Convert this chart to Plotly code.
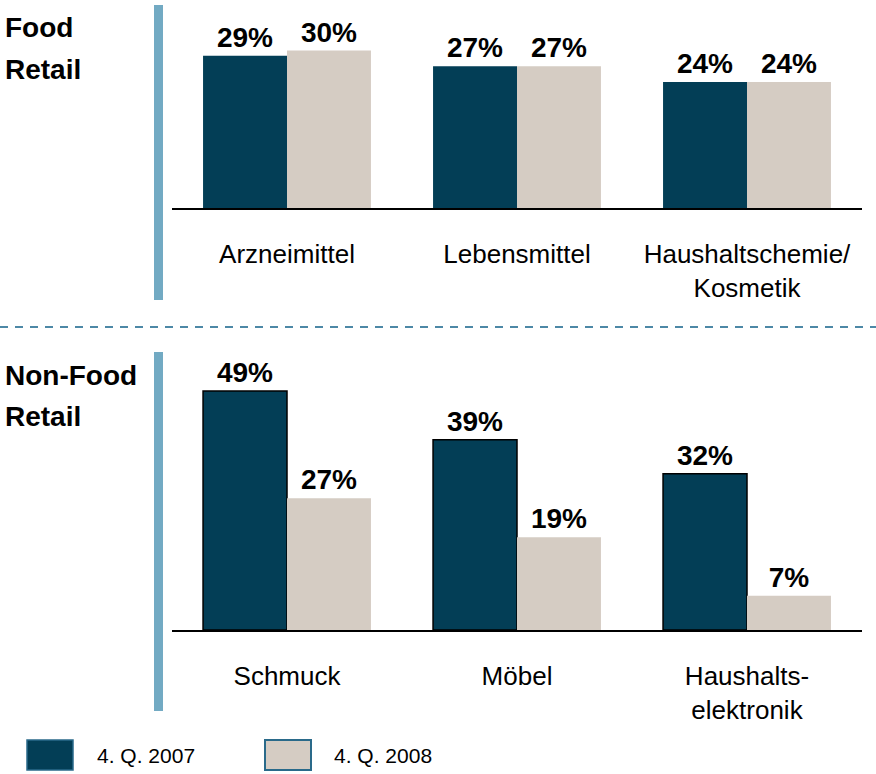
import plotly.graph_objects as go

W, H = 876, 774

# data
food_categories = ["Arzneimittel", "Lebensmittel", "Haushaltschemie/<br>Kosmetik"]
food_2007 = [29, 27, 24]
food_2008 = [30, 27, 24]

nonfood_categories = ["Schmuck", "Möbel", "Haushalts-<br>elektronik"]
nonfood_2007 = [49, 39, 32]
nonfood_2008 = [27, 19, 7]

series_names = ["4. Q. 2007", "4. Q. 2008"]
food_label = ["Food", "Retail"]
nonfood_label = ["Non-Food", "Retail"]

DARK = "#033e56"
LIGHT = "#d5ccc3"
BLUE = "#72aac3"
FONT = "Liberation Sans, Arial, sans-serif"


def px(x):
    return x / W


def py(y):
    return 1 - y / H


fig = go.Figure()

for vals, name, color in [(food_2007, series_names[0], DARK), (food_2008, series_names[1], LIGHT)]:
    fig.add_trace(go.Bar(
        x=food_categories, y=vals, name=name, xaxis="x", yaxis="y",
        marker=dict(color=color, line=dict(width=0)),
        texttemplate="%{y}%", textposition="outside", cliponaxis=False,
        textfont=dict(size=28, color="black", family=FONT, weight="bold"),
        showlegend=False,
    ))

for vals, name, color, outline in [
    (nonfood_2007, series_names[0], DARK, 1.5),
    (nonfood_2008, series_names[1], LIGHT, 0),
]:
    fig.add_trace(go.Bar(
        x=nonfood_categories, y=vals, name=name, xaxis="x2", yaxis="y2",
        marker=dict(color=color, line=dict(width=outline, color="black")),
        texttemplate="%{y}%", textposition="outside", cliponaxis=False,
        textfont=dict(size=28, color="black", family=FONT, weight="bold"),
        showlegend=False,
    ))

xstyle = dict(
    showline=True, linecolor="black", linewidth=2, showgrid=False,
    ticks="outside", ticklen=22, tickcolor="rgba(0,0,0,0)",
    tickfont=dict(size=26, color="black", family=FONT),
    fixedrange=True,
)
ystyle = dict(visible=False, showgrid=False, zeroline=False, fixedrange=True)

fig.update_layout(
    width=W, height=H,
    margin=dict(l=0, r=0, t=0, b=0),
    paper_bgcolor="white", plot_bgcolor="white",
    barmode="group", bargap=0.27, bargroupgap=0,
    font=dict(family=FONT, color="black"),
    xaxis=dict(domain=[px(172), px(862)], anchor="y", **xstyle),
    yaxis=dict(domain=[py(208), py(0)], range=[0, 208 / 5.25], anchor="x", **ystyle),
    xaxis2=dict(domain=[px(172), px(862)], anchor="y2", **xstyle),
    yaxis2=dict(domain=[py(630), py(330)], range=[0, 300 / 4.88], anchor="x2", **ystyle),
)

shapes = [
    # vertical accent bars
    dict(type="rect", xref="paper", yref="paper", x0=px(154), x1=px(163),
         y0=py(300), y1=py(5), fillcolor=BLUE, line=dict(width=0)),
    dict(type="rect", xref="paper", yref="paper", x0=px(154), x1=px(163),
         y0=py(711), y1=py(352), fillcolor=BLUE, line=dict(width=0)),
    # dashed separator
    dict(type="line", xref="paper", yref="paper", x0=0, x1=1,
         y0=py(327), y1=py(327), line=dict(color="#4d88a6", width=2, dash="8px,7px")),
    # legend boxes
    dict(type="rect", xref="paper", yref="paper", x0=px(27), x1=px(73),
         y0=py(770), y1=py(740), fillcolor=DARK, line=dict(color="#2a6a8a", width=1.5)),
    dict(type="rect", xref="paper", yref="paper", x0=px(265), x1=px(311),
         y0=py(770), y1=py(740), fillcolor=LIGHT, line=dict(color="#2a6a8a", width=2)),
]
fig.update_layout(shapes=shapes)

annotations = []
for lines, ys in [(food_label, [28, 70]), (nonfood_label, [375, 416])]:
    for text, y in zip(lines, ys):
        annotations.append(dict(
            text=text, xref="paper", yref="paper", x=px(3), y=py(y),
            xanchor="left", yanchor="middle", showarrow=False,
            font=dict(size=28, color="black", family=FONT, weight="bold"),
        ))

for name, x in zip(series_names, [95, 332]):
    annotations.append(dict(
        text=name, xref="paper", yref="paper", x=px(x), y=py(755),
        xanchor="left", yanchor="middle", showarrow=False,
        font=dict(size=21, color="black", family=FONT),
    ))
fig.update_layout(annotations=annotations)

fig.write_html(
    "out.html",
    config={"displayModeBar": False},
    post_script="document.body.style.margin='0';",
)
